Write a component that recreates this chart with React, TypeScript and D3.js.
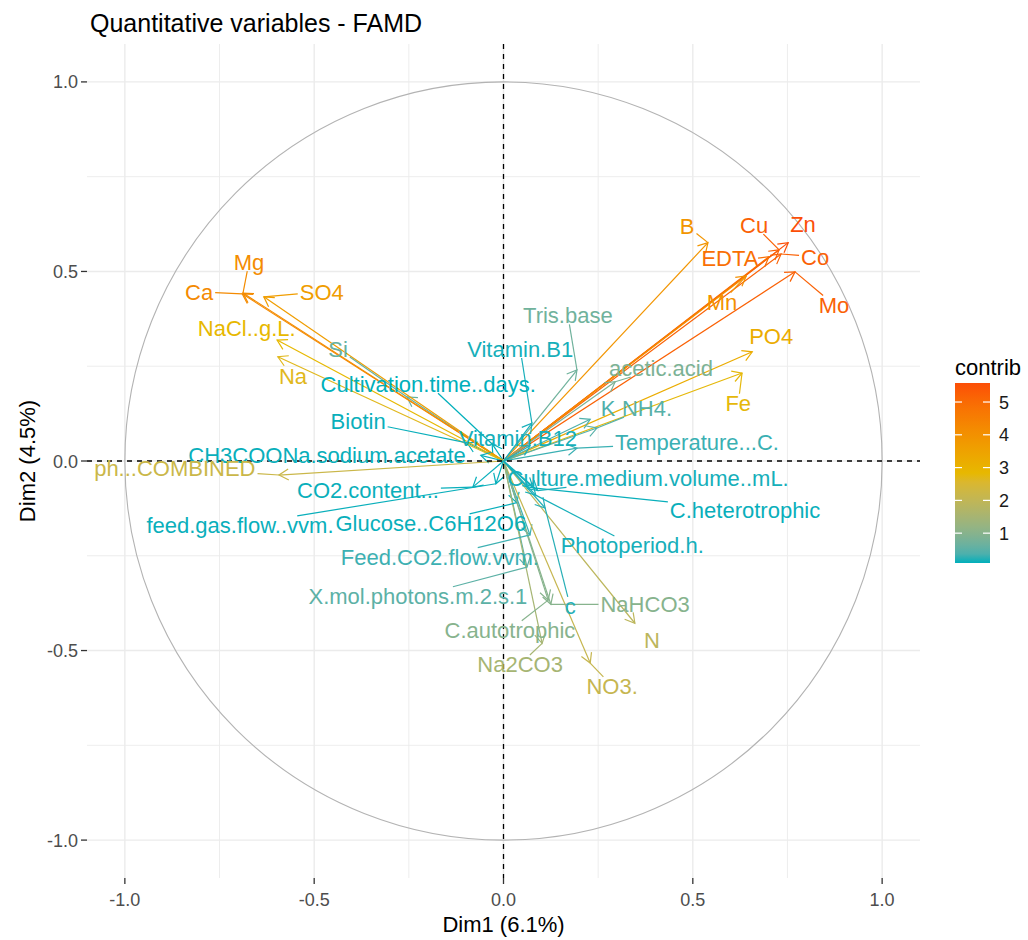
import React from "react";
import * as d3 from "d3";

// quantitative variables of the FAMD (coordinates)
const variables = [
  "Zn", "Cu", "Co", "EDTA", "Mn", "Mo", "B", "PO4", "Fe", "acetic.acid",
  "Tris.base", "Vitamin.B1", "K", "NH4.", "Temperature...C.", "Vitamin.B12",
  "Cultivation.time..days.", "Biotin", "Si", "Mg", "Ca", "SO4", "NaCl..g.L.", "Na",
  "CH3COONa.sodium.acetate", "ph...COMBINED", "CO2.content...", "feed.gas.flow..vvm.",
  "Glucose..C6H12O6", "Feed.CO2.flow.vvm.", "X.mol.photons.m.2.s.1", "C.autotrophic",
  "Na2CO3", "NO3.", "N", "NaHCO3", "c", "Photoperiod.h.", "C.heterotrophic",
  "Culture.medium.volume..mL.",
];
const dim1 = [
  0.752, 0.728, 0.733, 0.701, 0.641, 0.77, 0.54, 0.657, 0.63, 0.295,
  0.194, 0.075, 0.229, 0.247, 0.194, 0.07,
  -0.03, -0.096, -0.255, -0.688, -0.69, -0.633, -0.598, -0.596,
  -0.06, -0.593, -0.081, -0.02,
  0.035, 0.07, 0.062, 0.118,
  0.102, 0.229, 0.347, 0.125, 0.11, 0.085, 0.078,
  0.09,
];
const dim2 = [
  0.576, 0.557, 0.546, 0.539, 0.488, 0.499, 0.576, 0.288, 0.232, 0.209,
  0.24, 0.1, 0.11, 0.087, 0.034, 0.04,
  0.045, 0.048, 0.169, 0.443, 0.441, 0.433, 0.319, 0.275,
  0.015, -0.037, -0.069, -0.06,
  -0.11, -0.195, -0.28, -0.367,
  -0.481, -0.533, -0.428, -0.378, -0.124, -0.09, -0.071,
  -0.078,
];
const contrib = [
  5.58, 5.2, 5.2, 4.9, 4.0, 5.2, 3.9, 3.2, 2.8, 0.85,
  0.7, 0.12, 0.4, 0.45, 0.25, 0.12,
  0.09, 0.1, 0.6, 4.15, 4.2, 3.65, 2.85, 2.7,
  0.1, 2.2, 0.1, 0.1,
  0.1, 0.27, 0.5, 1.0,
  1.5, 2.1, 1.9, 1.0, 0.17, 0.12, 0.1,
  0.12,
];
// where the (repelled) labels sit, in Dim1/Dim2 units
const labelDim1 = [
  0.791, 0.662, 0.823, 0.598, 0.577, 0.873, 0.485, 0.707, 0.62, 0.416,
  0.17, 0.044, 0.276, 0.379, 0.511, 0.038,
  -0.199, -0.384, -0.437, -0.672, -0.804, -0.48, -0.678, -0.556,
  -0.466, -0.868, -0.358, -0.696,
  -0.192, -0.168, -0.226, 0.017,
  0.044, 0.287, 0.392, 0.374, 0.176, 0.34, 0.638,
  0.382,
];
const labelDim2 = [
  0.626, 0.623, 0.539, 0.536, 0.42, 0.412, 0.62, 0.33, 0.153, 0.246,
  0.385, 0.296, 0.14, 0.14, 0.05, 0.061,
  0.203, 0.106, 0.296, 0.525, 0.446, 0.446, 0.351, 0.224,
  0.016, -0.018, -0.077, -0.169,
  -0.164, -0.253, -0.356, -0.446,
  -0.536, -0.594, -0.473, -0.378, -0.383, -0.222, -0.129,
  -0.045,
];
const axisTicks = [-1, -0.5, 0, 0.5, 1];
const minorTicks = [-0.75, -0.25, 0.25, 0.75];
const legendTicks = [1, 2, 3, 4, 5];
const contribRange = [0.09, 5.58];
const gradientCols = ["#00AFBB", "#E7B800", "#FC4E07"];

const FONT = '"Liberation Sans", Arial, Helvetica, sans-serif';
const LABEL_SIZE = 22;

const measureCtx = document.createElement("canvas").getContext("2d");
const textWidth = (s: string, size: number) => {
  if (!measureCtx) return s.length * size * 0.55;
  measureCtx.font = `${size}px ${FONT}`;
  return measureCtx.measureText(s).width;
};

// R prints a plain hyphen for negatives
const fmt = (v: number) => d3.format(".1f")(v).replace("\u2212", "-");

const App = () => {
  const width = 1028;
  const height = 940;
  const panel = { left: 87, right: 920, top: 44, bottom: 878 };

  const x = d3.scaleLinear().domain([-1.1, 1.1]).range([panel.left, panel.right]);
  const y = d3.scaleLinear().domain([-1.1, 1.1]).range([panel.bottom, panel.top]);

  const [cMin, cMax] = contribRange;
  const color = d3
    .scaleLinear<string>()
    .domain([cMin, (cMin + cMax) / 2, cMax])
    .range(gradientCols)
    .interpolate(d3.interpolateLab);

  const legend = { x: 955, w: 35, top: 383, bottom: 563 };
  const ly = d3.scaleLinear().domain(contribRange).range([legend.bottom, legend.top]);

  const headLen = 11;
  const headAngle = Math.PI / 6;

  const items = variables.map((name, i) => {
    const x0 = x(0), y0 = y(0);
    const x1 = x(dim1[i]), y1 = y(dim2[i]);
    const a = Math.atan2(y1 - y0, x1 - x0);
    const head = [a + Math.PI - headAngle, a + Math.PI + headAngle]
      .map((t) => [x1 + headLen * Math.cos(t), y1 + headLen * Math.sin(t)]);
    const lx = x(labelDim1[i]), lyy = y(labelDim2[i]);
    // repel segment: from label box edge to the arrow tip
    const w = textWidth(name, LABEL_SIZE) / 2 + 2;
    const h = LABEL_SIZE * 0.42;
    const dx = x1 - lx, dy = y1 - lyy;
    const t = Math.min(
      dx !== 0 ? w / Math.abs(dx) : Infinity,
      dy !== 0 ? h / Math.abs(dy) : Infinity
    );
    const dist = Math.hypot(dx, dy);
    const seg = t < 1 && dist * (1 - t) > 14
      ? { x1: lx + dx * t, y1: lyy + dy * t, x2: x1, y2: y1 }
      : null;
    return { name, c: color(contrib[i]), x0, y0, x1, y1, head, lx, ly: lyy, seg };
  });

  return (
    <div style={{ position: "absolute", left: 0, top: 0 }}>
      <svg width={width} height={height} style={{ display: "block", background: "#fff" }} fontFamily={FONT}>
        <text x={90} y={32} fontSize={25} fill="#000">Quantitative variables - FAMD</text>

        {/* grid */}
        {minorTicks.map((v) => (
          <g key={"m" + v}>
            <line x1={x(v)} x2={x(v)} y1={panel.top} y2={panel.bottom} stroke="#EBEBEB" strokeWidth={0.9} />
            <line x1={panel.left} x2={panel.right} y1={y(v)} y2={y(v)} stroke="#EBEBEB" strokeWidth={0.9} />
          </g>
        ))}
        {axisTicks.map((v) => (
          <g key={"M" + v}>
            <line x1={x(v)} x2={x(v)} y1={panel.top} y2={panel.bottom} stroke="#EBEBEB" strokeWidth={1.4} />
            <line x1={panel.left} x2={panel.right} y1={y(v)} y2={y(v)} stroke="#EBEBEB" strokeWidth={1.4} />
          </g>
        ))}

        {/* correlation circle */}
        <ellipse cx={x(0)} cy={y(0)} rx={x(1) - x(0)} ry={y(0) - y(1)} fill="none" stroke="#B3B3B3" strokeWidth={1.1} />

        {/* arrows */}
        {items.map((d) => (
          <g key={"a" + d.name} stroke={d.c} strokeWidth={1.2} fill="none">
            <line x1={d.x0} y1={d.y0} x2={d.x1} y2={d.y1} />
            <polyline points={`${d.head[0][0]},${d.head[0][1]} ${d.x1},${d.y1} ${d.head[1][0]},${d.head[1][1]}`} />
          </g>
        ))}

        {/* dashed reference lines */}
        <line x1={x(0)} x2={x(0)} y1={panel.top} y2={panel.bottom} stroke="#000" strokeWidth={1.3} strokeDasharray="5,5" />
        <line x1={panel.left} x2={panel.right} y1={y(0)} y2={y(0)} stroke="#000" strokeWidth={1.3} strokeDasharray="5,5" />

        {/* labels with repel segments */}
        {items.map((d) =>
          d.seg ? (
            <line key={"s" + d.name} x1={d.seg.x1} y1={d.seg.y1} x2={d.seg.x2} y2={d.seg.y2} stroke={d.c} strokeWidth={1.2} />
          ) : null
        )}
        {items.map((d) => (
          <text key={"t" + d.name} x={d.lx} y={d.ly + LABEL_SIZE * 0.36} fontSize={LABEL_SIZE} fill={d.c} textAnchor="middle">
            {d.name}
          </text>
        ))}

        {/* axes */}
        {axisTicks.map((v) => (
          <g key={"xt" + v}>
            <line x1={x(v)} x2={x(v)} y1={panel.bottom} y2={panel.bottom + 6} stroke="#333" strokeWidth={1.3} />
            <text x={x(v)} y={906} fontSize={18} fill="#4D4D4D" textAnchor="middle">{fmt(v)}</text>
            <line x1={panel.left - 6} x2={panel.left} y1={y(v)} y2={y(v)} stroke="#333" strokeWidth={1.3} />
            <text x={panel.left - 9} y={y(v) + 6.5} fontSize={18} fill="#4D4D4D" textAnchor="end">{fmt(v)}</text>
          </g>
        ))}
        <text x={x(0)} y={932} fontSize={22} fill="#000" textAnchor="middle">Dim1 (6.1%)</text>
        <text transform={`translate(35,${y(0)}) rotate(-90)`} fontSize={22} fill="#000" textAnchor="middle">Dim2 (4.5%)</text>

        {/* legend */}
        <defs>
          <linearGradient id="contribGrad" x1="0" x2="0" y1="1" y2="0">
            {d3.range(0, 1.0001, 0.05).map((t) => (
              <stop key={t} offset={t} stopColor={color(cMin + t * (cMax - cMin))} />
            ))}
          </linearGradient>
        </defs>
        <text x={legend.x} y={375} fontSize={22} fill="#000">contrib</text>
        <rect x={legend.x} y={legend.top} width={legend.w} height={legend.bottom - legend.top} fill="url(#contribGrad)" />
        {legendTicks.map((v) => (
          <g key={"lt" + v}>
            <line x1={legend.x} x2={legend.x + 7} y1={ly(v)} y2={ly(v)} stroke="#fff" strokeWidth={1.2} />
            <line x1={legend.x + legend.w - 7} x2={legend.x + legend.w} y1={ly(v)} y2={ly(v)} stroke="#fff" strokeWidth={1.2} />
            <text x={legend.x + legend.w + 9} y={ly(v) + 6.5} fontSize={18} fill="#1A1A1A">{v}</text>
          </g>
        ))}
      </svg>
    </div>
  );
};

export default App;
